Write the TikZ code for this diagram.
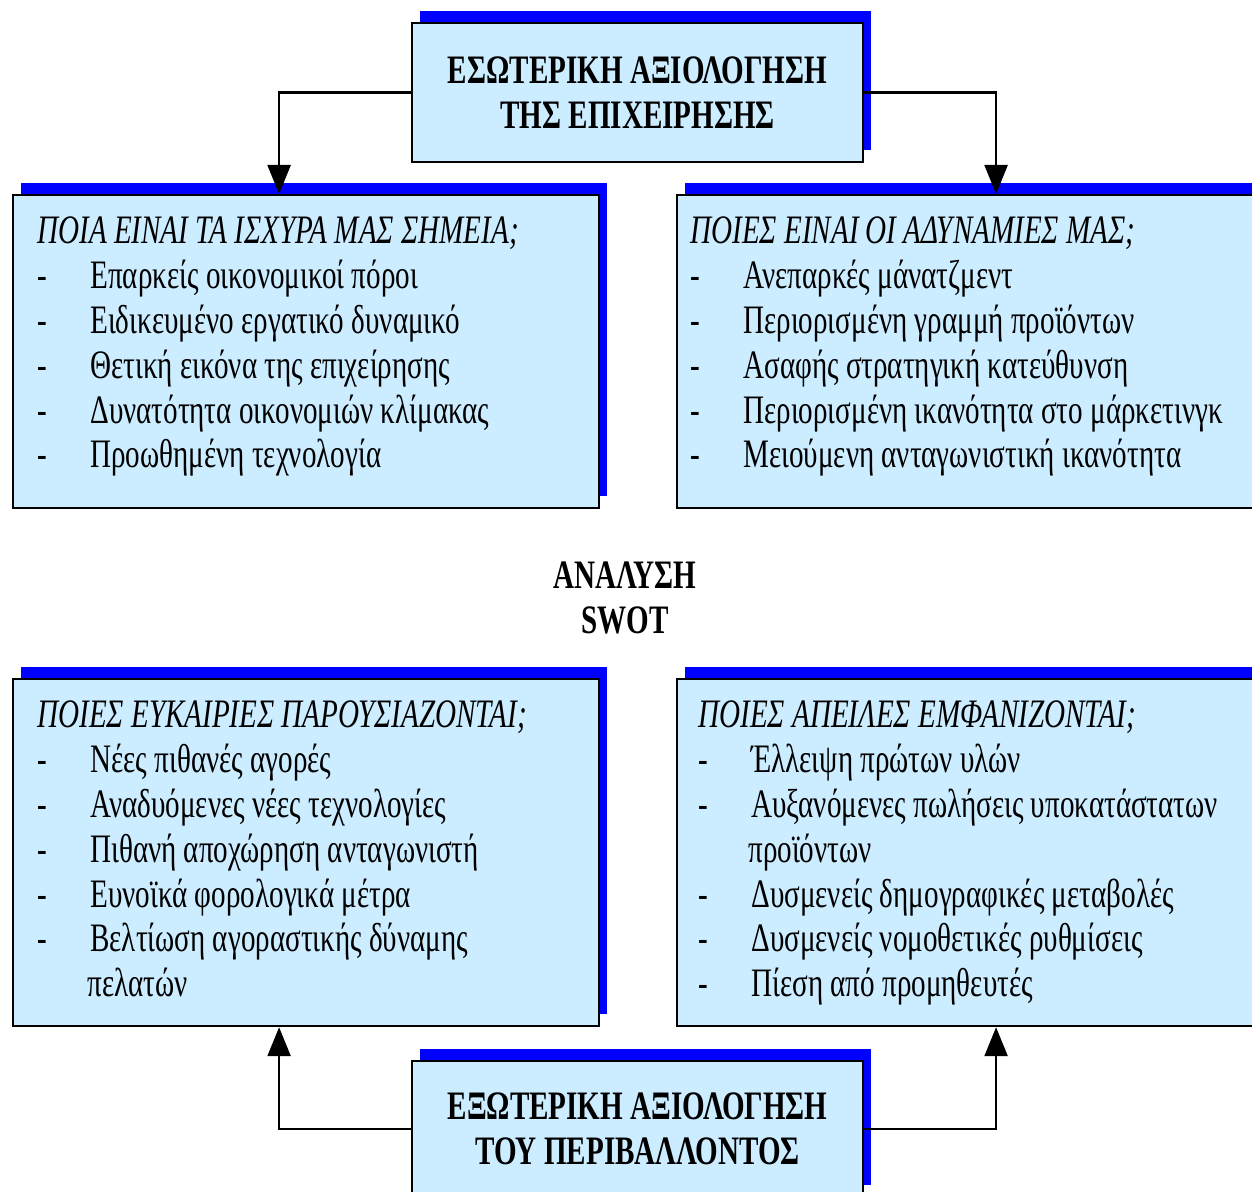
\documentclass[tikz,border=0pt]{standalone}
\usepackage{fontspec}
\setmainfont[FakeStretch=0.72]{Liberation Serif}
\usetikzlibrary{arrows.meta,shadows,positioning}
\definecolor{boxblue}{RGB}{204,236,255}
\definecolor{shadowblue}{RGB}{0,0,255}
\tikzset{
  box/.style={draw=black, line width=1.3pt, fill=boxblue, anchor=north west, inner sep=0pt,
    drop shadow={shadow xshift=0.16cm, shadow yshift=0.24cm, fill=shadowblue, opacity=1}},
  txt/.style={anchor=north west, align=left, inner sep=0pt, font=\fontsize{23}{25.6}\selectfont},
  head/.style={align=center, font=\fontsize{23}{25.6}\selectfont\bfseries},
  arr/.style={line width=1.4pt, -{Triangle[length=0.58cm,width=0.46cm]}}
}
\newcommand{\itm}[1]{\makebox[1.06cm][l]{-}#1}
\newcommand{\cont}[1]{\hspace*{1.0cm}#1}
\begin{document}
\begin{tikzpicture}[x=0.02cm, y=-0.02cm]
\useasboundingbox (0,0) rectangle (1252,1192);
%internal
\node[box, head, minimum width=9.02cm, minimum height=2.78cm] at (411,22) (intern) {ΕΣΩΤΕΡΙΚΗ ΑΞΙΟΛΟΓΗΣΗ\\ΤΗΣ ΕΠΙΧΕΙΡΗΣΗΣ};
\node[box, minimum width=11.72cm, minimum height=6.26cm] at (12,194) (strengths) {};
\node[box, minimum width=12.76cm, minimum height=6.26cm] at (676,194) (weaknesses) {};
\node[txt] at (37,216) (stext) {\itshape ΠΟΙΑ ΕΙΝΑΙ ΤΑ ΙΣΧΥΡΑ ΜΑΣ ΣΗΜΕΙΑ;\\
  \itm{Επαρκείς οικονομικοί πόροι}\\
  \itm{Ειδικευμένο εργατικό δυναμικό}\\
  \itm{Θετική εικόνα της επιχείρησης}\\
  \itm{Δυνατότητα οικονομιών κλίμακας}\\
  \itm{Προωθημένη τεχνολογία}};
\node[txt] at (690,216) (wtext) {\itshape ΠΟΙΕΣ ΕΙΝΑΙ ΟΙ ΑΔΥΝΑΜΙΕΣ ΜΑΣ;\\
  \itm{Ανεπαρκές μάνατζμεντ}\\
  \itm{Περιορισμένη γραμμή προϊόντων}\\
  \itm{Ασαφής στρατηγική κατεύθυνση}\\
  \itm{Περιορισμένη ικανότητα στο μάρκετινγκ}\\
  \itm{Μειούμενη ανταγωνιστική ικανότητα}};
\draw[arr] (intern.west) -| ([xshift=-0.54cm]strengths.north);
\draw[arr] (intern.east) -| (weaknesses.north);
%centre
\node[head] at (625,598) (swot) {ΑΝΑΛΥΣΗ\\SWOT};
%external
\node[box, minimum width=11.72cm, minimum height=6.94cm] at (12,678) (opportunities) {};
\node[box, minimum width=12.76cm, minimum height=6.94cm] at (676,678) (threats) {};
\node[txt] at (37,700) (otext) {\itshape ΠΟΙΕΣ ΕΥΚΑΙΡΙΕΣ ΠΑΡΟΥΣΙΑΖΟΝΤΑΙ;\\
  \itm{Νέες πιθανές αγορές}\\
  \itm{Αναδυόμενες νέες τεχνολογίες}\\
  \itm{Πιθανή αποχώρηση ανταγωνιστή}\\
  \itm{Ευνοϊκά φορολογικά μέτρα}\\
  \itm{Βελτίωση αγοραστικής δύναμης}\\
  \cont{πελατών}};
\node[txt] at (698,700) (ttext) {\itshape ΠΟΙΕΣ ΑΠΕΙΛΕΣ ΕΜΦΑΝΙΖΟΝΤΑΙ;\\
  \itm{Έλλειψη πρώτων υλών}\\
  \itm{Αυξανόμενες πωλήσεις υποκατάστατων}\\
  \cont{προϊόντων}\\
  \itm{Δυσμενείς δημογραφικές μεταβολές}\\
  \itm{Δυσμενείς νομοθετικές ρυθμίσεις}\\
  \itm{Πίεση από προμηθευτές}};
\node[box, head, minimum width=9.02cm, minimum height=2.72cm] at (411,1060) (extern) {ΕΞΩΤΕΡΙΚΗ ΑΞΙΟΛΟΓΗΣΗ\\ΤΟΥ ΠΕΡΙΒΑΛΛΟΝΤΟΣ};
\draw[arr] (extern.west) -| ([xshift=-0.54cm]opportunities.south);
\draw[arr] (extern.east) -| (threats.south);
\end{tikzpicture}
\end{document}
